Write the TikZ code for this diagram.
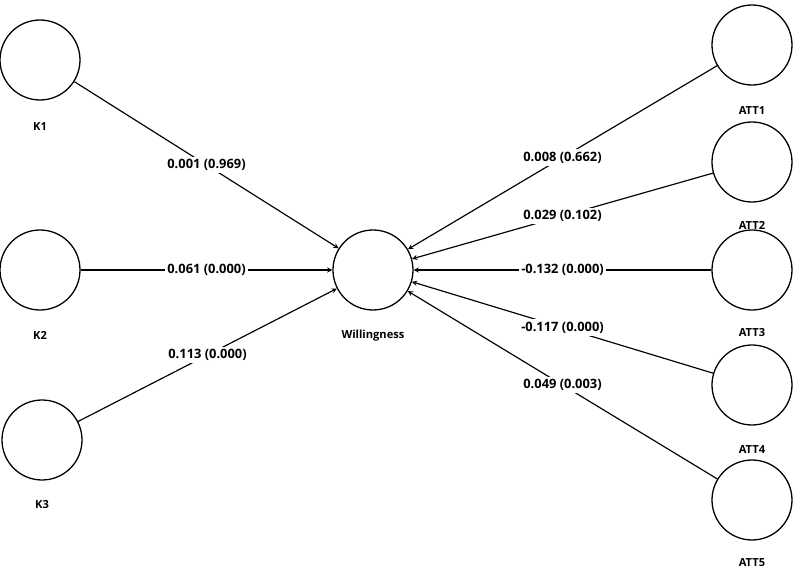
\documentclass[tikz,border=0pt]{standalone}
\usepackage{fontspec}
\setmainfont{Open Sans}
\usepackage{tikz}

\begin{document}
\begin{tikzpicture}[x=0.03cm, y=-0.03cm]
    % Define styles
    \tikzstyle{latent} = [circle, draw, line width=1.1pt, minimum size=2.4cm, inner sep=0pt]
    \tikzstyle{varlabel} = [font=\bfseries\fontsize{9.5}{11}\selectfont]
    \tikzstyle{coef} = [fill=white, inner sep=2pt, font=\bfseries\fontsize{11}{13}\selectfont]
    \tikzstyle{arrow} = [line width=1pt,->,>=stealth]

    \useasboundingbox (0,0) rectangle (800,573);

    % Nodes
    \node[latent] (k1) at (40,60) {};
    \node[latent] (k2) at (40,270) {};
    \node[latent] (k3) at (42,440) {};
    \node[latent] (will) at (373,270) {};
    \node[latent] (att1) at (752,45) {};
    \node[latent] (att2) at (752,162) {};
    \node[latent] (att3) at (752,270) {};
    \node[latent] (att4) at (752,385) {};
    \node[latent] (att5) at (752,500) {};

    % Labels
    \node[varlabel] (k1lbl) at (40,127) {K1};
    \node[varlabel] (k2lbl) at (40,335) {K2};
    \node[varlabel] (k3lbl) at (42,505) {K3};
    \node[varlabel] (willlbl) at (373,336) {Willingness};
    \node[varlabel] (att1lbl) at (752,111) {ATT1};
    \node[varlabel] (att2lbl) at (752,225) {ATT2};
    \node[varlabel] (att3lbl) at (752,333) {ATT3};
    \node[varlabel] (att4lbl) at (752,450) {ATT4};
    \node[varlabel] (att5lbl) at (752,563) {ATT5};

    % Arrows
    \draw[arrow] (k1) -- node[coef] {0.001 (0.969)} (will);
    \draw[arrow] (k2) -- node[coef] {0.061 (0.000)} (will);
    \draw[arrow] (k3) -- node[coef] {0.113 (0.000)} (will);
    \draw[arrow] (att1) -- node[coef] {0.008 (0.662)} (will);
    \draw[arrow] (att2) -- node[coef] {0.029 (0.102)} (will);
    \draw[arrow] (att3) -- node[coef] {-0.132 (0.000)} (will);
    \draw[arrow] (att4) -- node[coef] {-0.117 (0.000)} (will);
    \draw[arrow] (att5) -- node[coef] {0.049 (0.003)} (will);
\end{tikzpicture}
\end{document}
